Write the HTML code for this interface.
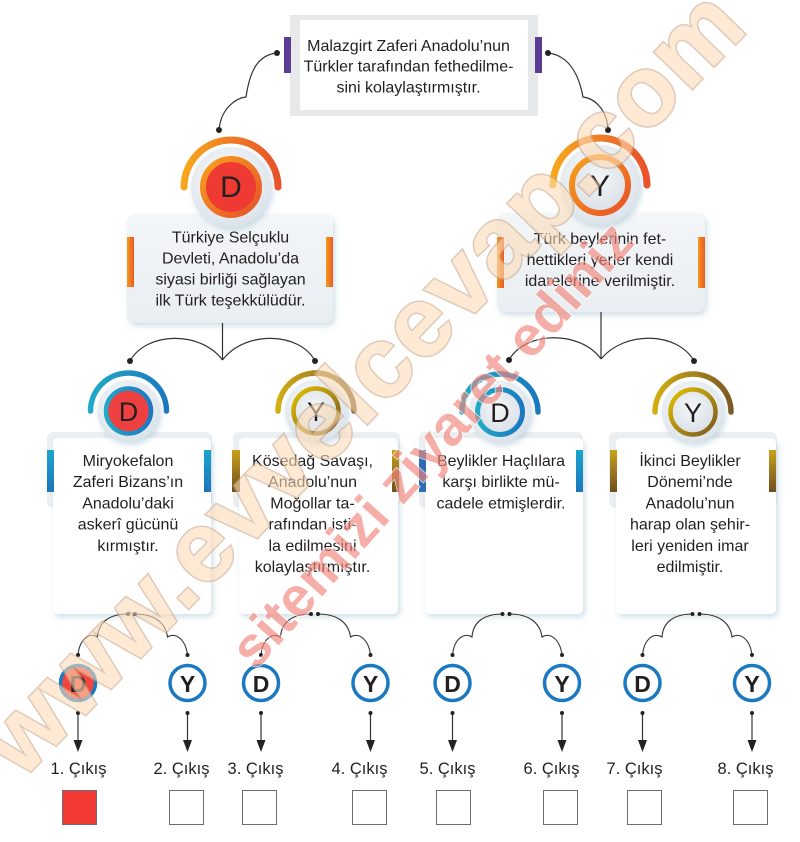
<!DOCTYPE html>
<html><head><meta charset="utf-8">
<style>
html,body{margin:0;padding:0;background:#fff;}
svg{display:block;}
text{font-family:"Liberation Sans",Arial,sans-serif;fill:#231f20;}
</style></head><body>
<svg width="800" height="842" viewBox="0 0 800 842" xmlns="http://www.w3.org/2000/svg">
<defs>
 <linearGradient id="gOr" x1="0" y1="0" x2="1" y2="0"><stop offset="0" stop-color="#f7a81c"/><stop offset="1" stop-color="#e9512b"/></linearGradient>
 <linearGradient id="gOrR" x1="0" y1="0" x2="1" y2="1"><stop offset="0" stop-color="#f6a11c"/><stop offset="1" stop-color="#e8502a"/></linearGradient>
 <linearGradient id="gBl" x1="0" y1="0" x2="1" y2="0"><stop offset="0" stop-color="#22a9c6"/><stop offset="1" stop-color="#1b78c0"/></linearGradient>
 <linearGradient id="gGd" x1="0" y1="0" x2="1" y2="0"><stop offset="0" stop-color="#d3ad12"/><stop offset="1" stop-color="#7b5a26"/></linearGradient>
 <linearGradient id="gGdR" x1="0" y1="0" x2="1" y2="1"><stop offset="0" stop-color="#e2c000"/><stop offset="1" stop-color="#7a5822"/></linearGradient>
 <linearGradient id="gGdV" x1="0" y1="0" x2="0" y2="1"><stop offset="0" stop-color="#c9a21a"/><stop offset="1" stop-color="#6e4e1e"/></linearGradient>
 <linearGradient id="gBlV" x1="0" y1="0" x2="0" y2="1"><stop offset="0" stop-color="#1aa6cc"/><stop offset="1" stop-color="#1c74bb"/></linearGradient>
 <linearGradient id="gOrV" x1="0" y1="0" x2="1" y2="0"><stop offset="0" stop-color="#f39a1e"/><stop offset="1" stop-color="#ea5a24"/></linearGradient>
 <linearGradient id="gBox" x1="0" y1="0" x2="0" y2="1"><stop offset="0" stop-color="#f3f6f8"/><stop offset="1" stop-color="#e9eef2"/></linearGradient>
 <radialGradient id="gDisk" cx="0.45" cy="0.4" r="0.6"><stop offset="0" stop-color="#ffffff"/><stop offset="1" stop-color="#dbe3ea"/></radialGradient>
 <radialGradient id="gIn" cx="0.45" cy="0.4" r="0.6"><stop offset="0" stop-color="#f4f6f8"/><stop offset="1" stop-color="#d9e0e6"/></radialGradient>
 <filter id="sh" x="-20%" y="-20%" width="140%" height="140%"><feDropShadow dx="2" dy="3" stdDeviation="3" flood-color="#9fc0d0" flood-opacity="0.5"/></filter>
</defs>

<!-- Top box -->
<rect x="290" y="15" width="248" height="101" fill="#e7e8ea"/>
<rect x="300" y="20" width="228" height="90" fill="#fff"/>
<rect x="284" y="37" width="7" height="36" fill="#5c3c95"/>
<rect x="535" y="37" width="7" height="36" fill="#5c3c95"/>
<g font-size="16" text-anchor="middle">
<text x="408.5" y="51">Malazgirt Zaferi Anadolu’nun</text>
<text x="408.5" y="71.5">Türkler tarafından fethedilme-</text>
<text x="408.5" y="92.5">sini kolaylaştırmıştır.</text>
</g>

<!-- top connectors -->
<g fill="none" stroke="#333" stroke-width="1.2">
<path d="M277,53 C258,55 250,70 246,97 C236,98 221,108 219,130"/>
<path d="M548,53 C566,55 578,70 583,97 C593,98 607,108 608,130"/>
</g>
<g fill="#222">
<circle cx="277" cy="53" r="3"/><circle cx="219" cy="130" r="3"/>
<circle cx="548" cy="53" r="3"/><circle cx="608" cy="130" r="3"/>
</g>

<!-- Level 1 boxes -->
<rect x="127" y="214" width="206" height="109" rx="8" fill="url(#gBox)" filter="url(#sh)"/>
<rect x="127" y="237" width="7" height="50" fill="url(#gOrV)"/>
<rect x="326" y="237" width="7" height="50" fill="url(#gOrV)"/>
<g font-size="16" text-anchor="middle">
<text x="230.5" y="242.5">Türkiye Selçuklu</text>
<text x="230.5" y="263.5">Devleti, Anadolu’da</text>
<text x="230.5" y="284.5">siyasi birliği sağlayan</text>
<text x="230.5" y="305.5">ilk Türk teşekkülüdür.</text>
</g>
<rect x="497" y="213" width="208" height="99" rx="8" fill="url(#gBox)" filter="url(#sh)"/>
<rect x="497" y="237" width="7" height="51" fill="url(#gOrV)"/>
<rect x="698" y="237" width="7" height="51" fill="url(#gOrV)"/>
<g font-size="16" text-anchor="middle">
<text x="600" y="244">Türk beylerinin fet-</text>
<text x="600" y="265">hettikleri yerler kendi</text>
<text x="600" y="286">idarelerine verilmiştir.</text>
</g>

<!-- Level 1 nodes -->
<circle cx="231" cy="187" r="40" fill="url(#gDisk)" filter="url(#sh)"/>
<path d="M184,187 A47,47 0 0 1 278,187" fill="none" stroke="url(#gOr)" stroke-width="7" stroke-linecap="round"/>
<circle cx="231" cy="187" r="28" fill="#ee3a33" stroke="url(#gOrR)" stroke-width="6"/>
<text x="231" y="197" font-size="30" text-anchor="middle">D</text>

<circle cx="600" cy="185" r="40" fill="url(#gDisk)" filter="url(#sh)"/>
<path d="M553,185 A47,47 0 0 1 647,185" fill="none" stroke="url(#gOr)" stroke-width="7" stroke-linecap="round"/>
<circle cx="600" cy="185" r="28" fill="url(#gIn)" stroke="url(#gOrR)" stroke-width="6"/>
<text x="600" y="196" font-size="30" text-anchor="middle">Y</text>

<!-- Level1->Level2 connectors -->
<g fill="none" stroke="#333" stroke-width="1.2">
<path d="M222.5,323 V360"/>
<path d="M130,361 C146,332 200,330 222.5,360"/>
<path d="M222.5,360 C245,330 300,332 315,361"/>
<path d="M601,312 V359"/>
<path d="M509,360 C525,331 580,330 601,359"/>
<path d="M601,359 C625,330 678,332 694,361"/>
</g>
<g fill="#222">
<circle cx="130" cy="361" r="3"/><circle cx="315" cy="361" r="3"/>
<circle cx="509" cy="360" r="3"/><circle cx="694" cy="361" r="3"/>
</g>

<!-- Level 2 cards -->
<g>
<rect x="47" y="432" width="165" height="76" rx="6" fill="#eceff2"/>
<rect x="53" y="438" width="158" height="176" rx="5" fill="#fff" filter="url(#sh)"/>
<rect x="47" y="450" width="7" height="42" fill="url(#gBlV)"/>
<rect x="204" y="450" width="7" height="42" fill="url(#gBlV)"/>

<rect x="233" y="432" width="167" height="76" rx="6" fill="#eceff2"/>
<rect x="239" y="438" width="159" height="176" rx="5" fill="#fff" filter="url(#sh)"/>
<rect x="232" y="450" width="8" height="42" fill="url(#gGdV)"/>
<rect x="392" y="450" width="7" height="42" fill="url(#gGdV)"/>

<rect x="419" y="432" width="164" height="76" rx="6" fill="#eceff2"/>
<rect x="425" y="438" width="158" height="176" rx="5" fill="#fff" filter="url(#sh)"/>
<rect x="419" y="450" width="7" height="42" fill="#2e6db3"/>
<rect x="576" y="450" width="7" height="42" fill="url(#gBlV)"/>

<rect x="609" y="432" width="168" height="76" rx="6" fill="#eceff2"/>
<rect x="616" y="438" width="160" height="176" rx="5" fill="#fff" filter="url(#sh)"/>
<rect x="610" y="450" width="7" height="42" fill="url(#gGdV)"/>
<rect x="769" y="450" width="7" height="42" fill="url(#gGdV)"/>
</g>
<g font-size="16" text-anchor="middle">
<text x="128" y="466">Miryokefalon</text>
<text x="128" y="487.2">Zaferi Bizans’ın</text>
<text x="128" y="508.4">Anadolu’daki</text>
<text x="128" y="529.6">askerî gücünü</text>
<text x="128" y="550.8">kırmıştır.</text>

<text x="312.5" y="466">Kösedağ Savaşı,</text>
<text x="312.5" y="487.2">Anadolu’nun</text>
<text x="312.5" y="508.4">Moğollar ta-</text>
<text x="312.5" y="529.6">rafından isti-</text>
<text x="312.5" y="550.8">la edilmesini</text>
<text x="312.5" y="572">kolaylaştırmıştır.</text>

<text x="501" y="466">Beylikler Haçlılara</text>
<text x="501" y="487.2">karşı birlikte mü-</text>
<text x="501" y="508.4">cadele etmişlerdir.</text>

<text x="690" y="466">İkinci Beylikler</text>
<text x="690" y="487.2">Dönemi’nde</text>
<text x="690" y="508.4">Anadolu’nun</text>
<text x="690" y="529.6">harap olan şehir-</text>
<text x="690" y="550.8">leri yeniden imar</text>
<text x="690" y="572">edilmiştir.</text>
</g>

<!-- Level 2 nodes -->
<g>
<circle cx="128.5" cy="411" r="31" fill="url(#gDisk)" filter="url(#sh)"/>
<path d="M90.5,411 A38,38 0 0 1 166.5,411" fill="none" stroke="url(#gBl)" stroke-width="5.5" stroke-linecap="round"/>
<circle cx="128.5" cy="411" r="22.5" fill="#ee4040" stroke="url(#gBl)" stroke-width="4.5"/>
<text x="128.5" y="421" font-size="27" text-anchor="middle">D</text>

<circle cx="316" cy="411" r="31" fill="url(#gDisk)" filter="url(#sh)"/>
<path d="M278,411 A38,38 0 0 1 354,411" fill="none" stroke="url(#gGd)" stroke-width="5.5" stroke-linecap="round"/>
<circle cx="316" cy="411" r="22.5" fill="url(#gIn)" stroke="url(#gGdR)" stroke-width="4.5"/>
<text x="316" y="421" font-size="27" text-anchor="middle">Y</text>

<circle cx="500" cy="412" r="31" fill="url(#gDisk)" filter="url(#sh)"/>
<path d="M462,412 A38,38 0 0 1 538,412" fill="none" stroke="url(#gBl)" stroke-width="5.5" stroke-linecap="round"/>
<circle cx="500" cy="412" r="22.5" fill="url(#gIn)" stroke="url(#gBl)" stroke-width="5"/>
<text x="500" y="422" font-size="27" text-anchor="middle">D</text>

<circle cx="693" cy="412" r="31" fill="url(#gDisk)" filter="url(#sh)"/>
<path d="M655,412 A38,38 0 0 1 731,412" fill="none" stroke="url(#gGd)" stroke-width="5.5" stroke-linecap="round"/>
<circle cx="693" cy="412" r="22.5" fill="url(#gIn)" stroke="url(#gGdR)" stroke-width="4.5"/>
<text x="693" y="422" font-size="27" text-anchor="middle">Y</text>
</g>

<!-- bottom connectors -->
<g fill="none" stroke="#333" stroke-width="1.1">
<path d="M128,614 C109.5,614 98.5,622 97.5,637 C89.5,632 79.5,639 78,655"/>
<path d="M135,614 C153.5,614 165.5,622 167.5,637 C175.5,632 185.5,639 187.5,655"/>
<path d="M311,614 C292.5,614 281.5,622 280.5,637 C272.5,632 262.5,639 261,655"/>
<path d="M318,614 C336.5,614 348.5,622 350.5,637 C358.5,632 368.5,639 370.5,655"/>
<path d="M502.5,614 C484,614 473,622 472,637 C464,632 454,639 452.5,655"/>
<path d="M509.5,614 C528,614 540,622 542,637 C550,632 560,639 562,655"/>
<path d="M692.5,614 C674,614 663,622 662,637 C654,632 644,639 642.5,655"/>
<path d="M699.5,614 C718,614 730,622 732,637 C740,632 750,639 752,655"/>
</g>
<g fill="#222">
<circle cx="128" cy="614" r="2"/><circle cx="135" cy="614" r="2"/><circle cx="78" cy="655" r="2"/><circle cx="187.5" cy="655" r="2"/>
<circle cx="311" cy="614" r="2"/><circle cx="318" cy="614" r="2"/><circle cx="261" cy="655" r="2"/><circle cx="370.5" cy="655" r="2"/>
<circle cx="502.5" cy="614" r="2"/><circle cx="509.5" cy="614" r="2"/><circle cx="452.5" cy="655" r="2"/><circle cx="562" cy="655" r="2"/>
<circle cx="692.5" cy="614" r="2"/><circle cx="699.5" cy="614" r="2"/><circle cx="642.5" cy="655" r="2"/><circle cx="752" cy="655" r="2"/>
</g>

<!-- bottom D/Y circles -->
<g stroke="#1b79c2" stroke-width="3.5">
<circle cx="78" cy="683" r="17.5" fill="#f0453a"/>
<circle cx="187.5" cy="683" r="17.5" fill="#fff"/>
<circle cx="261" cy="683" r="17.5" fill="#fff"/>
<circle cx="370.5" cy="683" r="17.5" fill="#fff"/>
<circle cx="452.5" cy="683" r="17.5" fill="#fff"/>
<circle cx="562" cy="683" r="17.5" fill="#fff"/>
<circle cx="642.5" cy="683" r="17.5" fill="#fff"/>
<circle cx="752" cy="683" r="17.5" fill="#fff"/>
</g>
<g font-size="23" font-weight="bold" text-anchor="middle">
<text x="78" y="692">D</text>
<text x="187.5" y="692">Y</text>
<text x="261" y="692">D</text>
<text x="370.5" y="692">Y</text>
<text x="452.5" y="692">D</text>
<text x="562" y="692">Y</text>
<text x="642.5" y="692">D</text>
<text x="752" y="692">Y</text>
</g>

<!-- arrows -->
<g stroke="#333" stroke-width="1.2">
<line x1="78" y1="713" x2="78" y2="742"/>
<line x1="187.5" y1="713" x2="187.5" y2="742"/>
<line x1="261" y1="713" x2="261" y2="742"/>
<line x1="370.5" y1="713" x2="370.5" y2="742"/>
<line x1="452.5" y1="713" x2="452.5" y2="742"/>
<line x1="562" y1="713" x2="562" y2="742"/>
<line x1="642.5" y1="713" x2="642.5" y2="742"/>
<line x1="752" y1="713" x2="752" y2="742"/>
</g>
<g fill="#222">
<circle cx="78" cy="713" r="2"/><circle cx="187.5" cy="713" r="2"/><circle cx="261" cy="713" r="2"/><circle cx="370.5" cy="713" r="2"/>
<circle cx="452.5" cy="713" r="2"/><circle cx="562" cy="713" r="2"/><circle cx="642.5" cy="713" r="2"/><circle cx="752" cy="713" r="2"/>
<polygon points="73.5,740 82.5,740 78,752"/>
<polygon points="183,740 192,740 187.5,752"/>
<polygon points="256.5,740 265.5,740 261,752"/>
<polygon points="366,740 375,740 370.5,752"/>
<polygon points="448,740 457,740 452.5,752"/>
<polygon points="557.5,740 566.5,740 562,752"/>
<polygon points="638,740 647,740 642.5,752"/>
<polygon points="747.5,740 756.5,740 752,752"/>
</g>

<!-- labels -->
<g font-size="16.5" text-anchor="middle">
<text x="78.5" y="774">1. Çıkış</text>
<text x="181.5" y="774">2. Çıkış</text>
<text x="255.5" y="774">3. Çıkış</text>
<text x="359.5" y="774">4. Çıkış</text>
<text x="447.5" y="774">5. Çıkış</text>
<text x="551.5" y="774">6. Çıkış</text>
<text x="634.5" y="774">7. Çıkış</text>
<text x="745.5" y="774">8. Çıkış</text>
</g>

<!-- answer boxes -->
<g stroke="#6d6e71" stroke-width="1" fill="#fff">
<rect x="62.5" y="790.5" width="34" height="34" fill="#f33a34"/>
<rect x="169.5" y="790.5" width="34" height="34"/>
<rect x="242.5" y="790.5" width="34" height="34"/>
<rect x="352.5" y="790.5" width="34" height="34"/>
<rect x="436.5" y="790.5" width="34" height="34"/>
<rect x="543.5" y="790.5" width="34" height="34"/>
<rect x="627.5" y="790.5" width="34" height="34"/>
<rect x="733.5" y="790.5" width="34" height="34"/>
</g>

<!-- watermark -->
<text transform="translate(21.6,781) rotate(-45.9)" font-size="100" font-weight="bold" textLength="1046" lengthAdjust="spacing" style="fill:#fcdcb8;stroke:#caa88a;stroke-width:3;paint-order:stroke" opacity="0.6">www.evvelcevap.com</text>
<text transform="translate(255.5,671.4) rotate(-48.4)" font-size="56" font-weight="bold" textLength="573" lengthAdjust="spacing" style="fill:#f2857a;stroke:#ffffff;stroke-width:2;paint-order:stroke" opacity="0.65">sitemizi ziyaret ediniz</text>
</svg>
</body></html>
